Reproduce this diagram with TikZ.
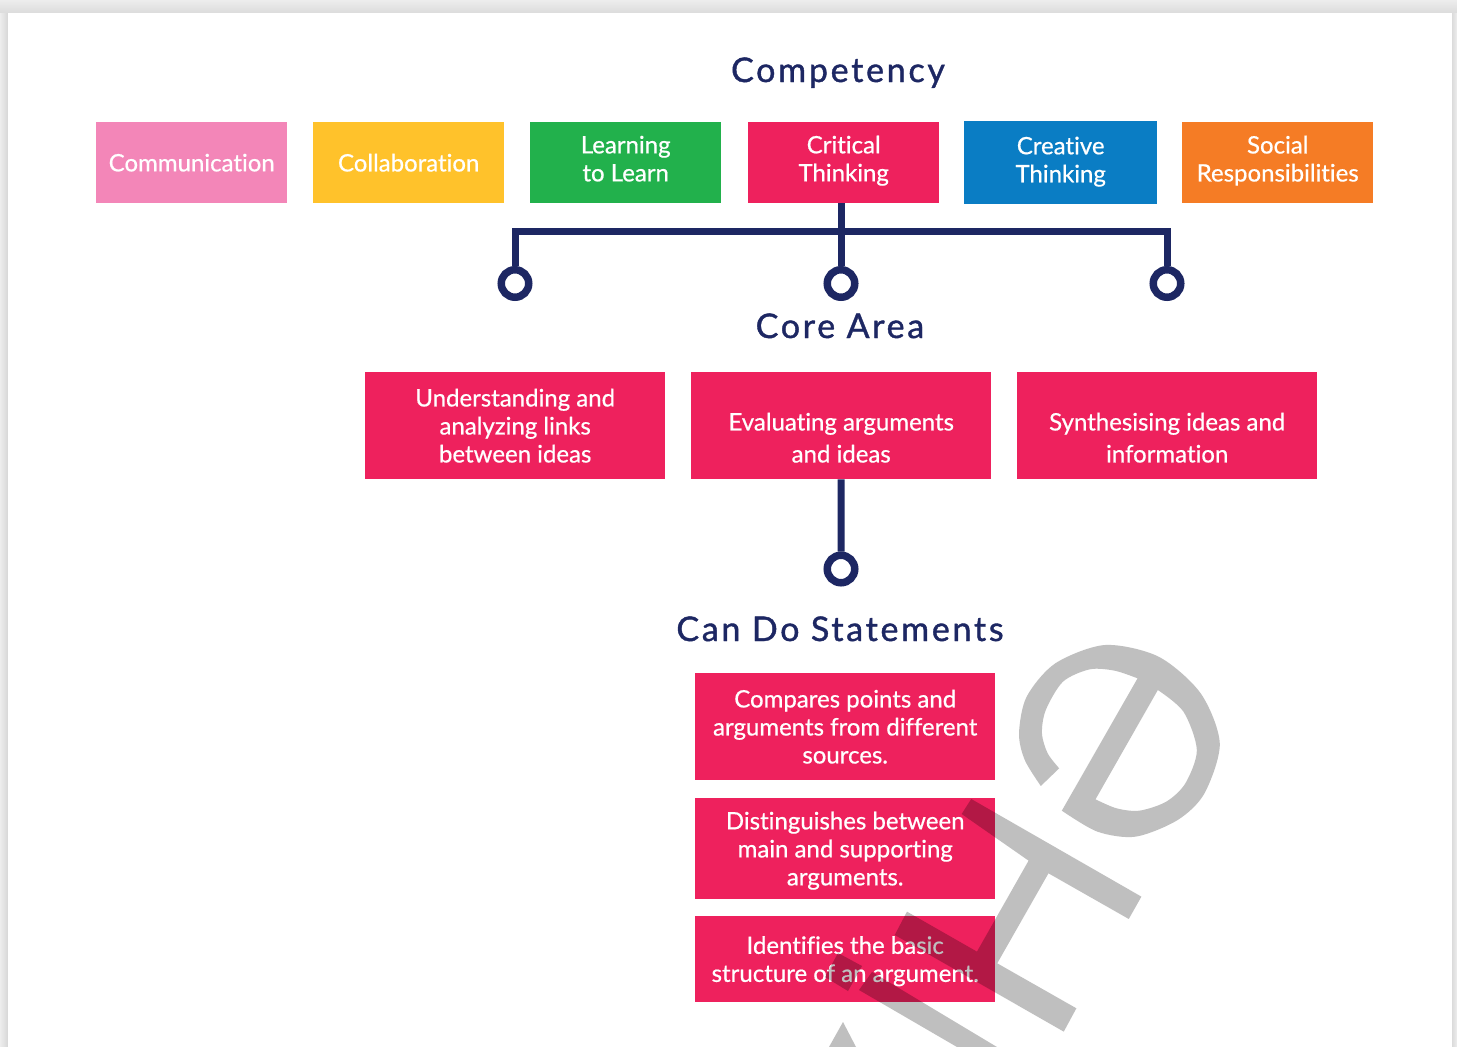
\documentclass[tikz,border=0pt]{standalone}
\usepackage{fontspec}
\setmainfont{Lato}[FakeBold=0.6,Ligatures=NoCommon]
\newfontfamily\titlefont{Lato}[FakeBold=1.2,LetterSpace=8,Ligatures=NoCommon]
\usetikzlibrary{calc,positioning}
\definecolor{navy}{HTML}{1D2763}
\definecolor{crim}{HTML}{EE215D}
\definecolor{pinkb}{HTML}{F386B8}
\definecolor{yell}{HTML}{FFC22B}
\definecolor{greenb}{HTML}{22B14C}
\definecolor{blueb}{HTML}{0A7DC4}
\definecolor{orangeb}{HTML}{F57C25}
\definecolor{wmgray}{HTML}{BFBFBF}
\tikzset{
  cbox/.style={inner sep=0pt,anchor=north west},
  ctext/.style={inner sep=0pt,text=white,align=center,font=\fontsize{24}{28}\selectfont},
  title/.style={inner sep=0pt,text=navy,anchor=base,font=\titlefont\fontsize{34}{36}\selectfont},
  ring/.style={circle,draw=navy,line width=7.5pt,fill=white,minimum size=27.5pt,inner sep=0pt},
  link/.style={draw=navy,line width=7pt,line join=miter}
}
% name, colour, x0, y0, x1, y1, text shift, text
\newcommand{\bx}[8]{\node[cbox,fill=#2,minimum width=#5pt-#3pt,minimum height=#6pt-#4pt] (#1) at (#3,#4) {};
  \node[ctext] (#1t) at ($(#1.center)+(0,#7)$) {#8};}
\begin{document}
\begin{tikzpicture}[x=1pt,y=-1pt]
\useasboundingbox (0,0) rectangle (1457,1047);
% page shadow
\fill[white!90!black] (0,0) rectangle (1457,1047);
\shade[top color=black!7,bottom color=black!14] (0,0) rectangle (1457,13);
\shade[left color=black!7,right color=black!16] (0,13) rectangle (8,1047);
\shade[left color=black!14,right color=black!7] (1452,13) rectangle (1457,1047);
\fill[white] (8,13) rectangle (1452,1047);
% competency row
\bx{comm}{pinkb}{96}{122}{287}{203}{0}{Communication}
\bx{coll}{yell}{313}{122}{504}{203}{0}{Collaboration}
\bx{lear}{greenb}{530}{122}{721}{203}{-4}{Learning\\to Learn}
\bx{crit}{crim}{748}{122}{939}{203}{-2}{Critical\\Thinking}
\bx{crea}{blueb}{964}{121}{1157}{204}{-1}{Creative\\Thinking}
\bx{soci}{orangeb}{1182}{122}{1373}{203}{-2}{Social\\Responsibilities}
% core area
\bx{core1}{crim}{365}{372}{665}{479}{0}{Understanding and\\analyzing links\\between ideas}
\bx{core2}{crim}{691}{372}{991}{479}{12}{Evaluating arguments\\[4pt]and ideas}
\bx{core3}{crim}{1017}{372}{1317}{479}{12}{Synthesising ideas and\\[4pt]information}
% can do
\bx{can1}{crim}{695}{673}{995}{780}{0}{Compares points and\\arguments from different\\sources.}
\bx{can2}{crim}{695}{798}{995}{899}{2}{Distinguishes between\\main and supporting\\arguments.}
\bx{can3}{crim}{695}{916}{995}{1002}{2}{Identifies the basic\\structure of an argument.}
% titles
\node[title] (t1) at (838,82) {Competency};
\node[title] (t2) at (840,338) {Core Area};
\node[title] (t3) at (840,641) {Can Do Statements};
% rings and links
\node[ring] (c1) at (515,283.5) {};
\node[ring] (c2) at (841,283.5) {};
\node[ring] (c3) at (1167,283.5) {};
\node[ring] (c4) at (841,569) {};
\coordinate (hub) at (841,231);
\draw[link] (c1.north) |- (hub) -| (c3.north);
\draw[link] (crit.south -| c2.north) -- (c2.north);
\draw[link] (core2.south) -- (c4.north);
% watermark
\begin{scope}[blend mode=multiply]
\begin{scope}[xshift=650pt,yshift=-640pt,x=0.3824pt,y=-0.3333pt]
\fill[wmgray,even odd rule]
  plot[smooth] coordinates {(1022,438) (980,360) (965,280) (985,170) (1060,70) (1190,15) (1330,50) (1440,160) (1490,310) (1450,460) (1380,540) (1270,590) (1170,575) (1077,512)}
  -- plot[smooth] coordinates {(1275,115) (1215,92) (1150,88) (1080,125) (1035,210) (1025,280) (1040,340) (1070,385)} -- cycle
  plot[smooth] coordinates {(1328,150) (1395,215) (1430,330) (1400,430) (1350,485) (1280,512) (1220,505) (1165,478)} -- cycle;
\fill[wmgray] (840,477) -- (1285,770) -- (1252,837) -- (1042,700) -- (908,970) -- (1115,1105) -- (1082,1175) -- (640,885) -- (672,815) -- (855,935) -- (990,662) -- (815,522) -- cycle;
\end{scope}
\fill[wmgray] (838,953) -- (862,966) -- (848,991) -- (825,977) -- cycle;
\fill[wmgray] (872,972) -- (997,1047) -- (957,1047) -- (859,990) -- cycle;
\fill[wmgray] (843,1022) -- (856,1047) -- (829,1047) -- cycle;
\end{scope}
\end{tikzpicture}
\end{document}
